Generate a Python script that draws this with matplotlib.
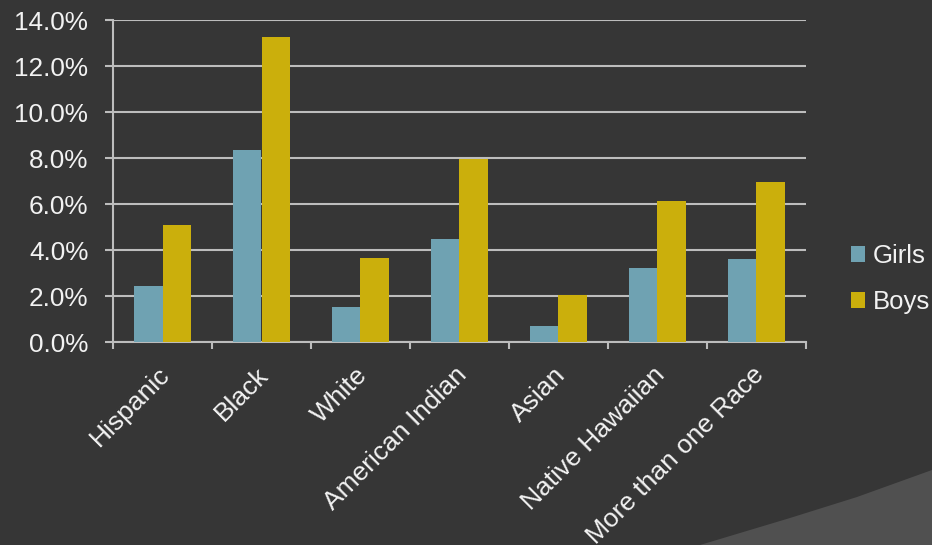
import numpy as np
import matplotlib.pyplot as plt
from matplotlib.patches import Polygon
from matplotlib.transforms import ScaledTranslation

categories = ["Hispanic", "Black", "White", "American Indian", "Asian",
              "Native Hawaiian", "More than one Race"]
girls = [2.43, 8.35, 1.52, 4.48, 0.70, 3.22, 3.61]
boys = [5.09, 13.26, 3.65, 7.96, 2.04, 6.13, 6.96]
y_ticks = [0, 2, 4, 6, 8, 10, 12, 14]

BG = "#363636"
GIRL_COL = "#6fa2b2"
BOY_COL = "#cbaf0c"
GRID = "#bdbdbd"
TXT = "#f2f2f2"

plt.rcParams["font.family"] = ["Liberation Sans", "DejaVu Sans"]

W, H = 932, 545
fig = plt.figure(figsize=(W / 100, H / 100), dpi=100, facecolor=BG)

# lighter swoosh in the lower right corner (pixel coords -> figure fraction)
corner = [(700, 545), (790, 518), (857, 497), (932, 470), (932, 545)]
swoosh = Polygon([(px / W, 1 - py / H) for px, py in corner], closed=True,
                 transform=fig.transFigure, facecolor="#505050",
                 edgecolor="none", zorder=0)
fig.patches.append(swoosh)

ax = fig.add_axes([113 / W, 1 - 342 / H, 693 / W, 322 / H])
ax.set_facecolor("none")

x = np.arange(len(categories))
w = 0.29
ax.bar(x - w / 2, girls, w, color=GIRL_COL, label="Girls", zorder=3)
ax.bar(x + w / 2, boys, w, color=BOY_COL, label="Boys", zorder=3)

ax.set_xlim(-0.5, len(categories) - 0.5)
ax.set_ylim(0, 14)
ax.set_yticks(y_ticks)
ax.set_yticklabels([f"{v:.1f}%" for v in y_ticks])
ax.yaxis.grid(True, color=GRID, linewidth=1.5, zorder=1)
ax.set_axisbelow(True)

# category boundary ticks on the x axis, labels at the centres
ax.set_xticks(np.arange(len(categories) + 1) - 0.5)
ax.set_xticklabels([])
ax.set_xticks(x, minor=True)
ax.set_xticklabels(categories, minor=True, rotation=45, ha="right",
                   va="top", rotation_mode="anchor", fontsize=19, color=TXT)
ax.tick_params(axis="x", which="minor", length=0, pad=15)
ax.tick_params(axis="x", which="major", length=5, width=1.5, color=GRID)
ax.tick_params(axis="y", length=5.8, width=1.5, color=GRID, labelsize=18.8,
               labelcolor=TXT, pad=12)
shift = ScaledTranslation(-5 / 100, 0, fig.dpi_scale_trans)
for lbl in ax.get_xticklabels(minor=True):
    lbl.set_transform(lbl.get_transform() + shift)

for side in ["top", "right"]:
    ax.spines[side].set_visible(False)
for side in ["left", "bottom"]:
    ax.spines[side].set_color(GRID)
    ax.spines[side].set_linewidth(1.5)

fig.legend(*ax.get_legend_handles_labels(), loc="center left",
           bbox_to_anchor=(851 / W, 1 - 279 / H), frameon=False,
           fontsize=18.5, labelcolor=TXT, handlelength=0.55, handleheight=0.55,
           handletextpad=0.3, labelspacing=0.85, borderpad=0, borderaxespad=0)

fig.savefig("out.png", dpi=100, facecolor=BG)
